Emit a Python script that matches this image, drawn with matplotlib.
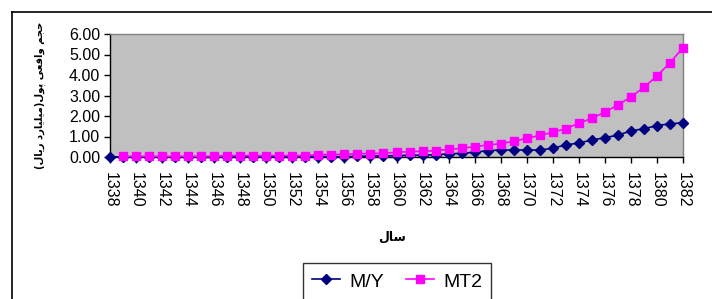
import numpy as np
import matplotlib
matplotlib.use('Agg')
import matplotlib.pyplot as plt
from matplotlib.lines import Line2D

plt.rcParams['font.family'] = ['Liberation Sans', 'DejaVu Sans']

years = list(range(1338, 1383))

# M/Y series
my = [0.00, 0.01, 0.01, 0.01, 0.01, 0.01, 0.01, 0.01, 0.01, 0.01,
      0.01, 0.01, 0.01, 0.01, 0.01, 0.02, 0.02, 0.02, 0.02, 0.03,
      0.05, 0.05, 0.07, 0.08, 0.09, 0.11, 0.15, 0.18, 0.23, 0.31,
      0.34, 0.34, 0.34, 0.34, 0.43, 0.59, 0.68, 0.83, 0.94, 1.07,
      1.27, 1.38, 1.53, 1.62, 1.67]

# MT2 series (no value for 1338)
mt2 = [np.nan, 0.03, 0.03, 0.03, 0.03, 0.03, 0.03, 0.03, 0.03, 0.07,
       0.07, 0.07, 0.07, 0.07, 0.07, 0.07, 0.12, 0.12, 0.13, 0.16,
       0.17, 0.18, 0.23, 0.26, 0.28, 0.31, 0.37, 0.42, 0.51, 0.58,
       0.65, 0.77, 0.91, 1.06, 1.20, 1.39, 1.64, 1.89, 2.19, 2.54,
       2.93, 3.40, 3.95, 4.60, 5.33]

xticks = list(range(1338, 1383, 2))
yticks = [0, 1, 2, 3, 4, 5, 6]

# persian labels, pre-shaped into visual order
ylabel_fa = ('(\ufedd\ufe8e\ufbfe\ufead \ufea9\ufead\ufe8e\ufbff\ufee0\ufbff\ufee3)'
             '\ufedd\ufeee\ufb58 \ufbfd\ufecc\ufed7\ufe8d\ufeed \ufee2\ufea0\ufea3')
xlabel_fa = '\ufedd\ufe8e\ufeb3'

fig = plt.figure(figsize=(7.12, 2.99), dpi=100)
fig.patch.set_facecolor('white')

# outer chart border (runs off the right and bottom edges)
bx = 11.5 / 712
by = 1 - 11.5 / 299
fig.add_artist(Line2D([bx, 1.01], [by, by], transform=fig.transFigure,
                      color='black', lw=1.2))
fig.add_artist(Line2D([bx, bx], [-0.01, by], transform=fig.transFigure,
                      color='black', lw=1.2))

ax = fig.add_axes([110 / 712, 1 - 157 / 299, 573 / 712, 123 / 299])
ax.set_facecolor('#c0c0c0')

ax.plot(years, my, color='#000080', marker='D', markersize=5, lw=1.2,
        label='M/Y', clip_on=False, zorder=3)
ax.plot(years, mt2, color='#ff00ff', marker='s', markersize=5.5, lw=1.2,
        label='MT2', clip_on=False, zorder=4)

ax.set_xlim(1338, 1382)
ax.set_ylim(0, 6)
ax.set_xticks(xticks)
ax.set_xticklabels([str(x) for x in xticks], rotation=270, fontsize=11.5)
ax.set_yticks(yticks)
ax.set_yticklabels(['%.2f' % v for v in yticks], fontsize=11.5)
ax.tick_params(axis='both', direction='out', length=4, width=1, pad=3)
ax.tick_params(axis='x', pad=7)

for s in ['top', 'right']:
    ax.spines[s].set_color('#808080')
    ax.spines[s].set_linewidth(1)
for s in ['left', 'bottom']:
    ax.spines[s].set_color('black')
    ax.spines[s].set_linewidth(1)

fig.text(392 / 712, 1 - 237 / 299, xlabel_fa, ha='center', va='center',
         fontsize=9, fontweight='bold', family=['DejaVu Sans'])
fig.text(40 / 712, 1 - 95 / 299, ylabel_fa, ha='center', va='center',
         rotation=90, fontsize=7.2, fontweight='bold', family=['DejaVu Sans'])

leg = fig.legend(loc='upper left', bbox_to_anchor=(303 / 712, 1 - 263 / 299),
                 ncol=2, fontsize=14, frameon=True, fancybox=False,
                 edgecolor='black', borderpad=0.45, handlelength=1.45,
                 handleheight=1.0, columnspacing=1.1, handletextpad=0.5,
                 borderaxespad=0)
leg.get_frame().set_linewidth(1)

plt.savefig('out.png', dpi=100)
